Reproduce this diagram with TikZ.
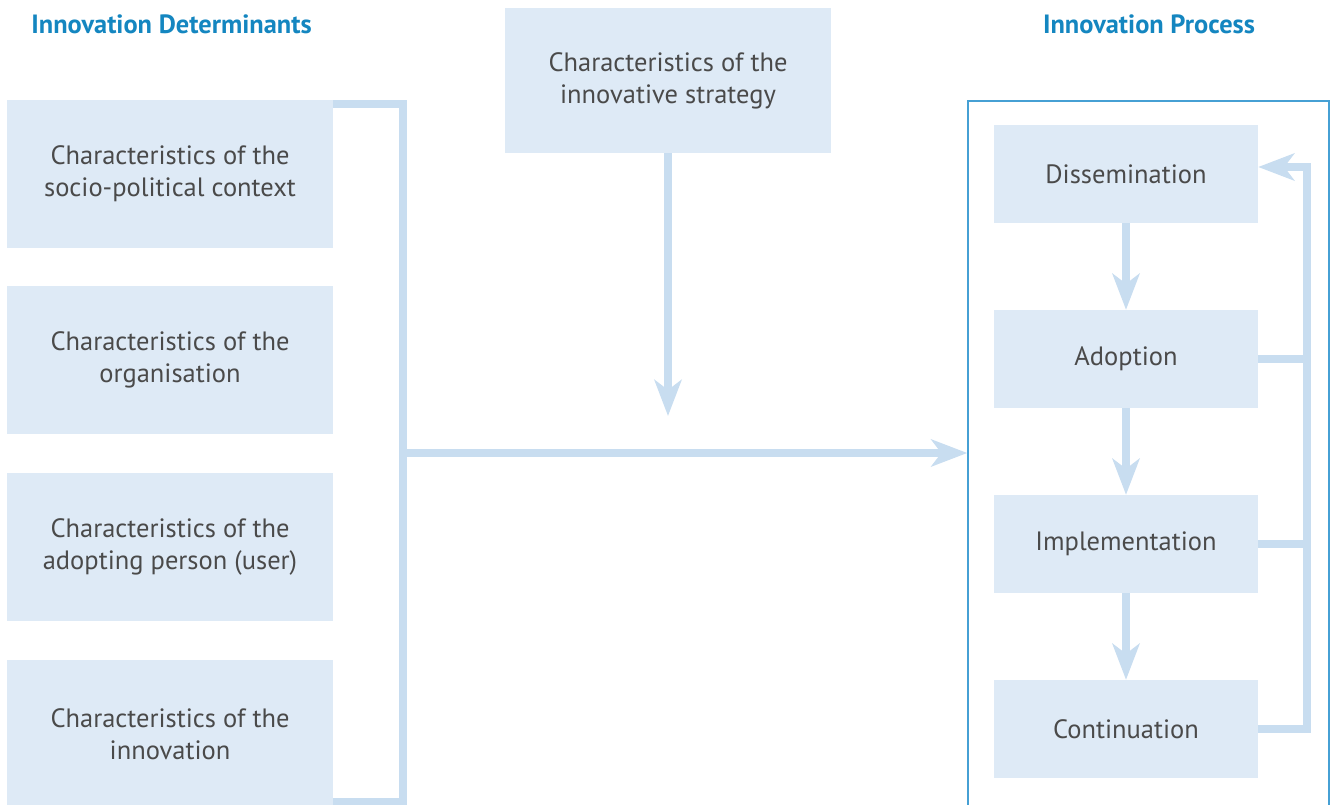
\documentclass[tikz,border=0pt]{standalone}
\usepackage{fontspec}
\setmainfont{PT Sans}
\usetikzlibrary{arrows.meta,calc}
\definecolor{boxfill}{RGB}{222,234,246}
\definecolor{linec}{RGB}{200,221,240}
\definecolor{titleblue}{RGB}{20,134,192}
\definecolor{framec}{RGB}{70,160,212}
\definecolor{textc}{RGB}{74,74,74}
\begin{document}
\begin{tikzpicture}[x=1pt,y=-1pt,
  box/.style={fill=boxfill, inner sep=0pt, minimum width=326pt, minimum height=148pt,
    text=textc, align=center, font=\fontsize{26.5}{32}\selectfont},
  pbox/.style={box, minimum width=264pt, minimum height=98pt},
  conn/.style={draw=linec, line width=8pt},
  arr/.style={conn, -{Stealth[length=36pt,width=27pt,inset=10pt]}},
  heading/.style={text=titleblue, inner sep=0pt, font=\fontsize{26.4}{30}\selectfont\bfseries},
  framebox/.style={draw=framec, line width=1.4pt, minimum width=361pt, minimum height=798pt, inner sep=0pt}]
\path[use as bounding box] (0,0) rectangle (1335,805);
\clip (0,0) rectangle (1335,805);

% headings
\node[heading] (hdet) at (171.5,24) {Innovation Determinants};
\node[heading] (hproc) at (1149,24) {Innovation Process};

% left boxes
\node[box] (b1) at (170,174) {Characteristics of the\\socio-political context};
\node[box] (b2) at (170,360) {Characteristics of the\\organisation};
\node[box] (b3) at (170,547) {Characteristics of the\\adopting person (user)};
\node[box] (b4) at (170,734) {Characteristics of the\\innovation};

% strategy box
\node[box, minimum height=145pt] (strat) at (668,80.5) {Characteristics of the\\innovative strategy};

% process frame
\node[framebox] (proc) at (1148.5,500) {};

% process boxes
\node[pbox] (diss) at (1126,174) {Dissemination};
\node[pbox] (adop) at (1126,359) {Adoption};
\node[pbox] (impl) at (1126,544) {Implementation};
\node[pbox] (cont) at (1126,729) {Continuation};

% bracket
\coordinate (brtop) at (403,104);
\coordinate (brbot) at (403,802);
\coordinate (join) at (403,453);
\draw[conn] (b1.north east |- brtop) -- (brtop) -- (brbot) -- (b4.east |- brbot);
\draw[arr] (join) -- (join -| proc.west);

% strategy arrow
\coordinate (stratend) at (668,416);
\draw[arr] (strat.south) -- (stratend);

% process arrows
\draw[arr] (diss.south) -- (adop.north);
\draw[arr] (adop.south) -- (impl.north);
\draw[arr] (impl.south) -- (cont.north);

% feedback
\coordinate (fbtop) at (1307,167);
\draw[arr] (cont.east) -| (fbtop) -- ([yshift=7pt]diss.east);
\draw[conn] (adop.east) -- (adop.east -| fbtop);
\draw[conn] (impl.east) -- (impl.east -| fbtop);
\end{tikzpicture}
\end{document}
